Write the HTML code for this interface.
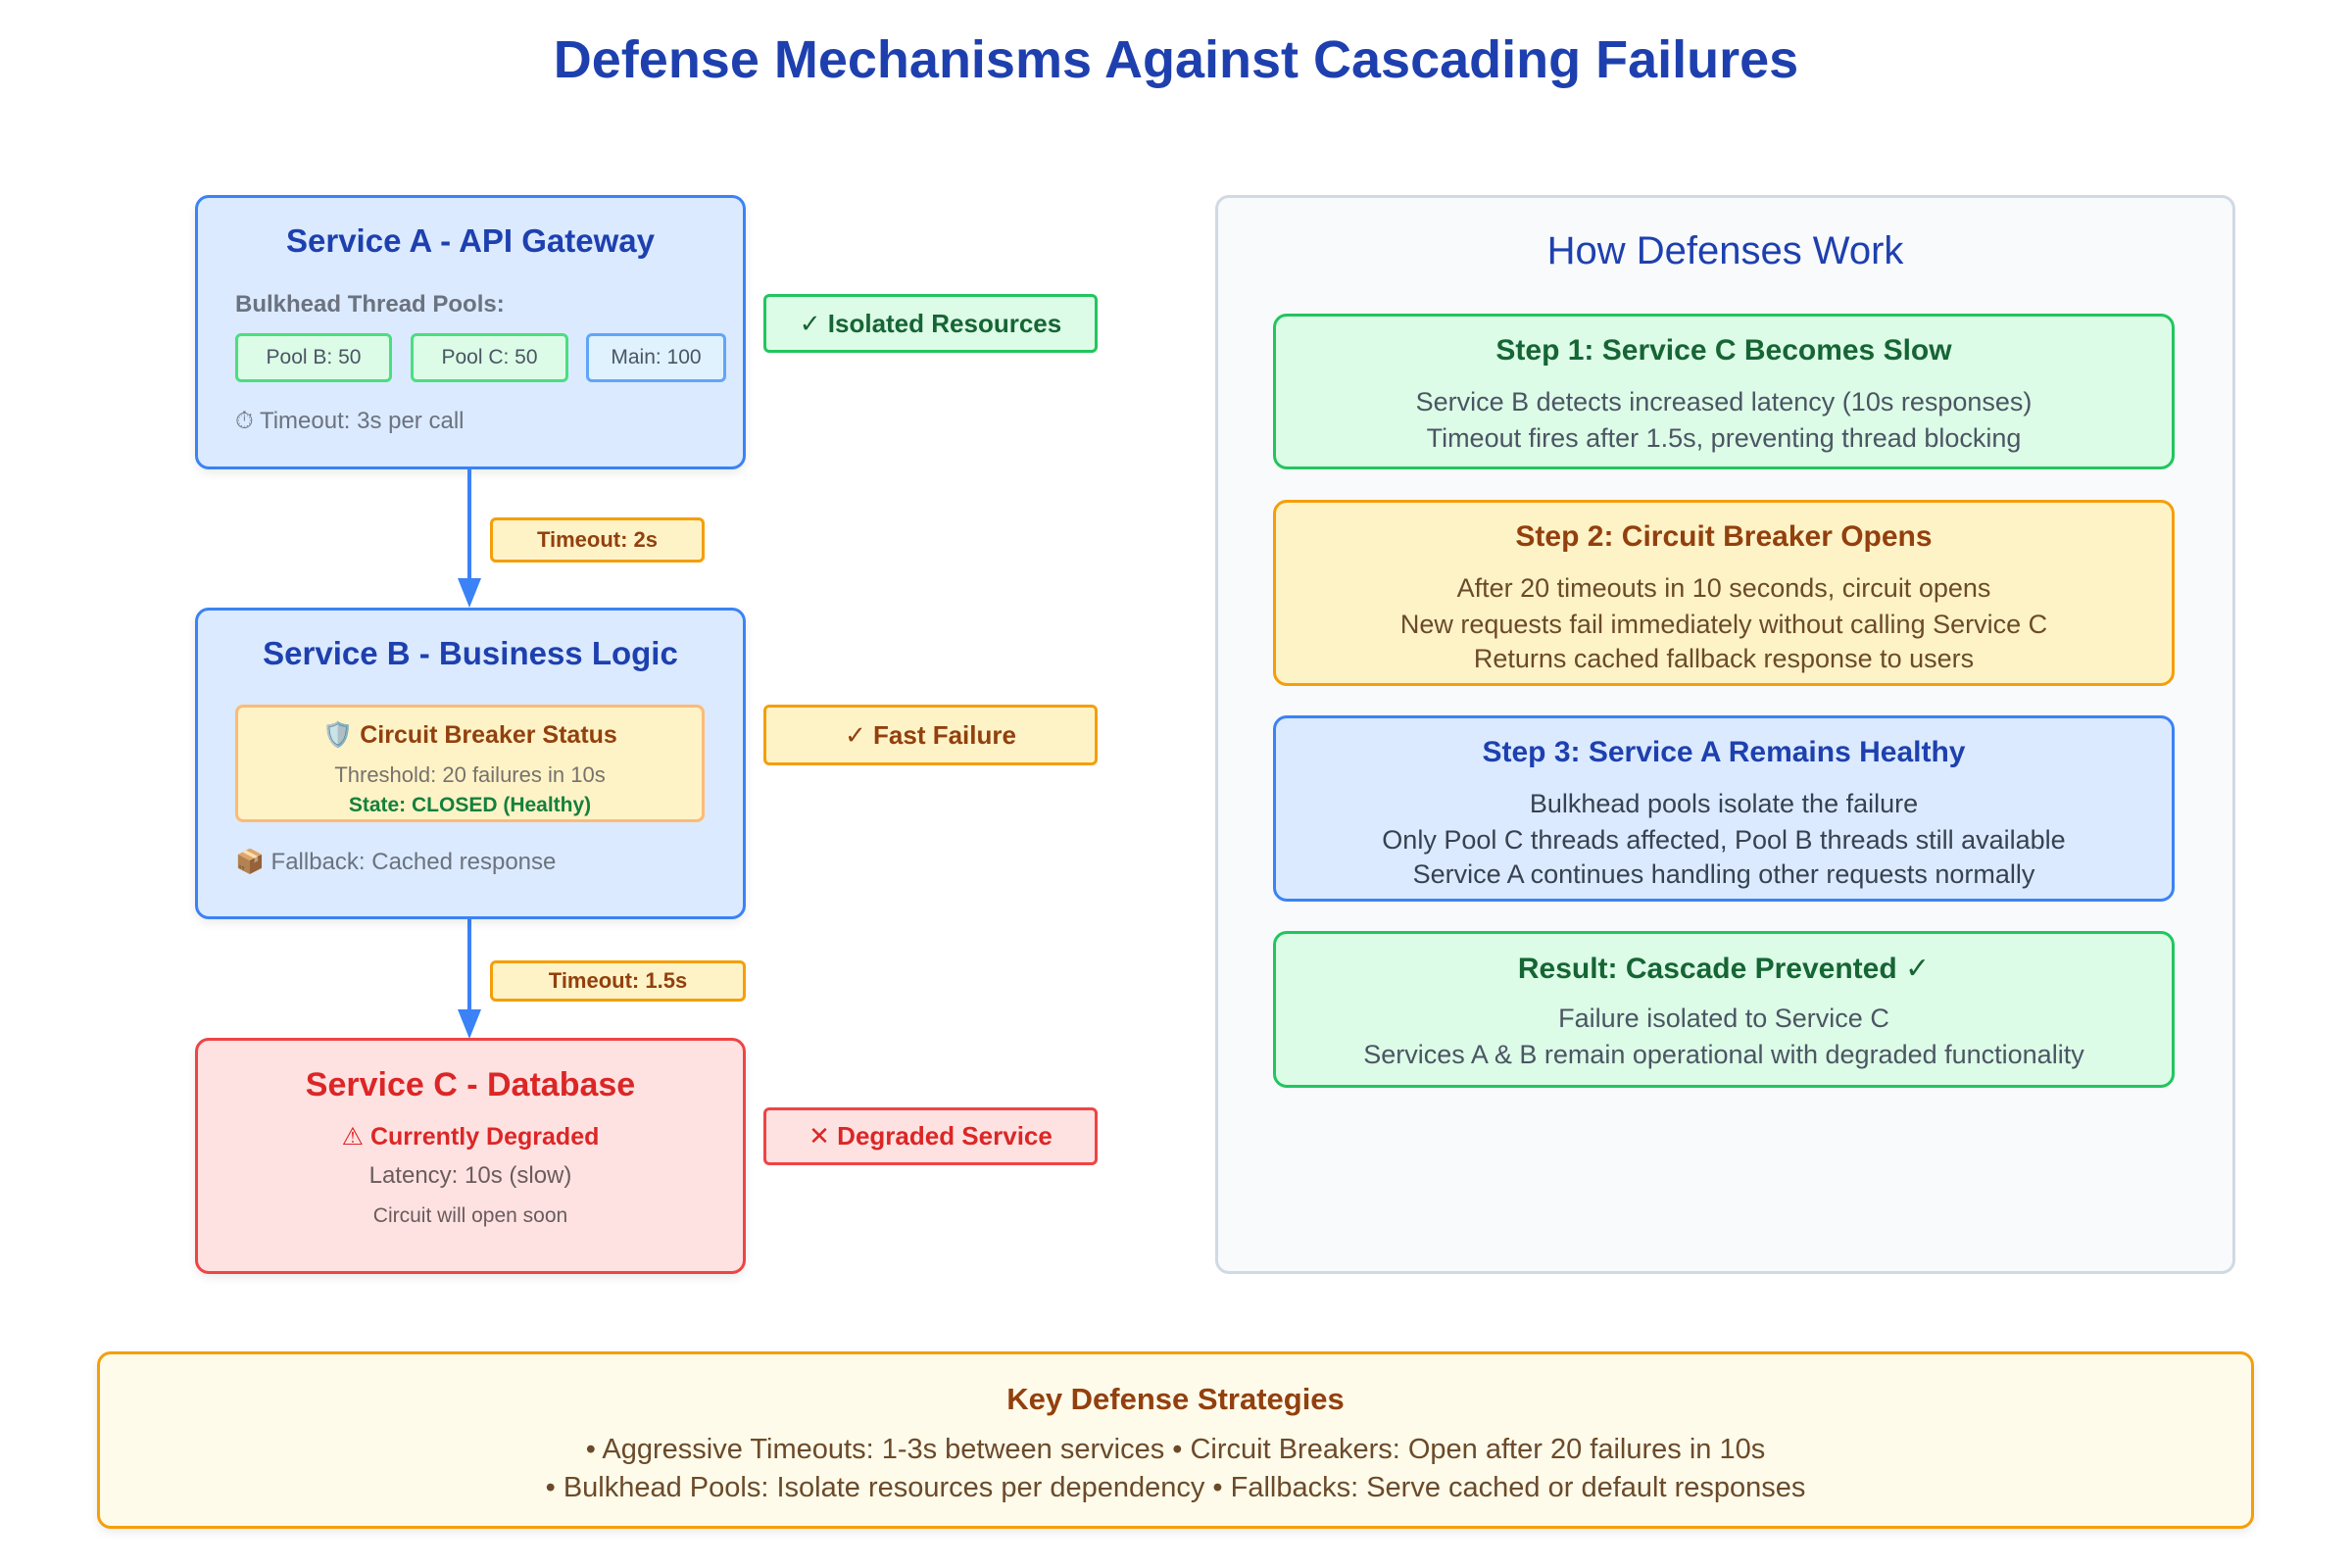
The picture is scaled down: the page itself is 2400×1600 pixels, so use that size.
<!DOCTYPE html>
<html><head><meta charset="utf-8"><style>
*{margin:0;padding:0;box-sizing:border-box}
body{width:2400px;height:1600px;background:#fff;position:relative;overflow:hidden;font-family:"Liberation Sans","DejaVu Sans",sans-serif}
.b{position:absolute;border-radius:14px}
.t{position:absolute;text-align:center;height:40px;line-height:40px;white-space:nowrap}
.blue{background:#dbeafe;border:3px solid #3b82f6;box-shadow:0 4px 10px rgba(0,0,0,.08)}
.green{background:#dcfce7;border:3px solid #22c55e}
.orange{background:#fef3c7;border:3px solid #f59e0b}
.red{background:#fee2e2;border:3px solid #ef4444}
.pill{position:absolute;border-radius:6px;display:flex;align-items:center;justify-content:center;font-weight:bold}
</style></head><body>
<div class="t" style="left:0;width:2400px;top:31px;height:60px;line-height:60px;font-size:54px;font-weight:bold;color:#1e40af">Defense Mechanisms Against Cascading Failures</div>

<!-- Service A -->
<div class="b blue" style="left:199px;top:199px;width:562px;height:280px"></div>
<div class="t" style="left:199px;width:562px;top:226px;font-size:33px;font-weight:bold;color:#1e40af">Service A - API Gateway</div>
<div class="t" style="left:240px;top:291px;font-size:24px;font-weight:bold;color:#6b7280">Bulkhead Thread Pools:</div>
<div class="pill" style="left:240px;top:340px;width:160px;height:50px;background:#dcfce7;border:3px solid #4ade80;font-weight:normal;font-size:21px;color:#4b5563">Pool B: 50</div>
<div class="pill" style="left:419px;top:340px;width:161px;height:50px;background:#dcfce7;border:3px solid #4ade80;font-weight:normal;font-size:21px;color:#4b5563">Pool C: 50</div>
<div class="pill" style="left:598px;top:340px;width:143px;height:50px;background:#e0f2fe;border:3px solid #60a5fa;font-weight:normal;font-size:21px;color:#4b5563">Main: 100</div>
<div class="t" style="left:240px;top:410px;font-size:24px;color:#6b7280">⏱ Timeout: 3s per call</div>

<!-- arrows -->
<div style="position:absolute;left:477px;top:479px;width:4px;height:120px;background:#3b82f6"></div>
<div style="position:absolute;left:467px;top:590px;border-left:12px solid transparent;border-right:12px solid transparent;border-top:30px solid #3b82f6"></div>
<div style="position:absolute;left:477px;top:938px;width:4px;height:100px;background:#3b82f6"></div>
<div style="position:absolute;left:467px;top:1030px;border-left:12px solid transparent;border-right:12px solid transparent;border-top:30px solid #3b82f6"></div>
<div class="pill orange" style="left:500px;top:528px;width:219px;height:46px;border-width:3px;font-size:22px;color:#92400e">Timeout: 2s</div>
<div class="pill orange" style="left:500px;top:980px;width:261px;height:42px;border-width:3px;font-size:22px;color:#92400e">Timeout: 1.5s</div>

<!-- Service B -->
<div class="b blue" style="left:199px;top:620px;width:562px;height:318px"></div>
<div class="t" style="left:199px;width:562px;top:647px;font-size:33px;font-weight:bold;color:#1e40af">Service B - Business Logic</div>
<div class="b" style="left:240px;top:719px;width:479px;height:120px;background:#fef3c7;border:3px solid #fdba74;border-radius:8px"></div>
<div class="t" style="left:240px;width:479px;top:730px;font-size:25px;font-weight:bold;color:#92400e">🛡️ Circuit Breaker Status</div>
<div class="t" style="left:240px;width:479px;top:771px;font-size:22px;color:#78716c">Threshold: 20 failures in 10s</div>
<div class="t" style="left:240px;width:479px;top:802px;font-size:21px;font-weight:bold;color:#15803d">State: CLOSED (Healthy)</div>
<div class="t" style="left:240px;top:860px;font-size:24px;color:#6b7280">📦 Fallback: Cached response</div>

<!-- Service C -->
<div class="b red" style="left:199px;top:1059px;width:562px;height:241px;box-shadow:0 4px 10px rgba(0,0,0,.08)"></div>
<div class="t" style="left:199px;width:562px;top:1087px;font-size:34px;font-weight:bold;color:#dc2626">Service C - Database</div>
<div class="t" style="left:199px;width:562px;top:1140px;font-size:25px;font-weight:bold;color:#dc2626">⚠ Currently Degraded</div>
<div class="t" style="left:199px;width:562px;top:1180px;font-size:24px;color:#6b5b5b">Latency: 10s (slow)</div>
<div class="t" style="left:199px;width:562px;top:1221px;font-size:21px;color:#6b5b5b">Circuit will open soon</div>

<!-- side labels -->
<div class="pill green" style="left:779px;top:300px;width:341px;height:60px;font-size:26px;color:#166534">✓ Isolated Resources</div>
<div class="pill orange" style="left:779px;top:719px;width:341px;height:62px;font-size:26px;color:#92400e">✓ Fast Failure</div>
<div class="pill red" style="left:779px;top:1130px;width:341px;height:59px;font-size:26px;color:#dc2626">✕ Degraded Service</div>

<!-- right panel -->
<div class="b" style="left:1240px;top:199px;width:1041px;height:1101px;background:#f8fafc;border:3px solid #d1d9e3"></div>
<div class="t" style="left:1240px;width:1041px;top:236px;font-size:40px;color:#1e40af">How Defenses Work</div>

<div class="b green" style="left:1299px;top:320px;width:920px;height:159px"></div>
<div class="t" style="left:1299px;width:920px;top:338px;font-size:30px;font-weight:bold;color:#166534">Step 1: Service C Becomes Slow</div>
<div class="t" style="left:1299px;width:920px;top:390px;font-size:27px;color:#4b5563">Service B detects increased latency (10s responses)</div>
<div class="t" style="left:1299px;width:920px;top:427px;font-size:27px;color:#4b5563">Timeout fires after 1.5s, preventing thread blocking</div>

<div class="b orange" style="left:1299px;top:510px;width:920px;height:190px"></div>
<div class="t" style="left:1299px;width:920px;top:528px;font-size:30px;font-weight:bold;color:#92400e">Step 2: Circuit Breaker Opens</div>
<div class="t" style="left:1299px;width:920px;top:580px;font-size:27px;color:#6b4a2a">After 20 timeouts in 10 seconds, circuit opens</div>
<div class="t" style="left:1299px;width:920px;top:617px;font-size:27px;color:#6b4a2a">New requests fail immediately without calling Service C</div>
<div class="t" style="left:1299px;width:920px;top:652px;font-size:27px;color:#6b4a2a">Returns cached fallback response to users</div>

<div class="b" style="left:1299px;top:730px;width:920px;height:190px;background:#dbeafe;border:3px solid #3b82f6"></div>
<div class="t" style="left:1299px;width:920px;top:748px;font-size:30px;font-weight:bold;color:#1e40af">Step 3: Service A Remains Healthy</div>
<div class="t" style="left:1299px;width:920px;top:800px;font-size:27px;color:#374151">Bulkhead pools isolate the failure</div>
<div class="t" style="left:1299px;width:920px;top:837px;font-size:27px;color:#374151">Only Pool C threads affected, Pool B threads still available</div>
<div class="t" style="left:1299px;width:920px;top:872px;font-size:27px;color:#374151">Service A continues handling other requests normally</div>

<div class="b green" style="left:1299px;top:950px;width:920px;height:160px"></div>
<div class="t" style="left:1299px;width:920px;top:969px;font-size:30px;font-weight:bold;color:#166534">Result: Cascade Prevented ✓</div>
<div class="t" style="left:1299px;width:920px;top:1019px;font-size:27px;color:#4b5563">Failure isolated to Service C</div>
<div class="t" style="left:1299px;width:920px;top:1056px;font-size:27px;color:#4b5563">Services A &amp; B remain operational with degraded functionality</div>

<!-- bottom -->
<div class="b" style="left:99px;top:1379px;width:2201px;height:181px;background:#fefbea;border:3px solid #f59e0b;box-shadow:0 4px 10px rgba(0,0,0,.08)"></div>
<div class="t" style="left:99px;width:2201px;top:1408px;font-size:31px;font-weight:bold;color:#92400e">Key Defense Strategies</div>
<div class="t" style="left:99px;width:2201px;top:1459px;font-size:29px;color:#6b4a2a">• Aggressive Timeouts: 1-3s between services • Circuit Breakers: Open after 20 failures in 10s</div>
<div class="t" style="left:99px;width:2201px;top:1498px;font-size:29px;color:#6b4a2a">• Bulkhead Pools: Isolate resources per dependency • Fallbacks: Serve cached or default responses</div>
</body></html>
